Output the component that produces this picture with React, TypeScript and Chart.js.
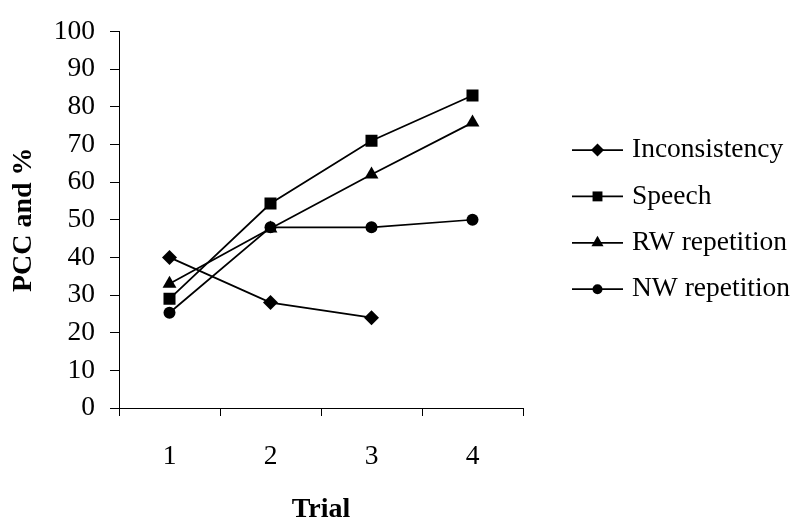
import React, { useEffect, useRef } from "react";
import { Chart, registerables } from "chart.js";

Chart.register(...registerables);

const categories = ["1", "2", "3", "4"];
const inconsistency = [40, 28, 24, null];
const speech = [29, 54.3, 71, 83];
const rwRepetition = [33, 47.7, 62, 75.8];
const nwRepetition = [25.3, 48, 48, 50];
const seriesNames = ["Inconsistency", "Speech", "RW repetition", "NW repetition"];
const xTitle = "Trial";
const yTitle = "PCC and %";

const FONT = "'Liberation Serif', 'Times New Roman', serif";
const FS = 27.5;

function marker(ctx: CanvasRenderingContext2D, style: string, x: number, y: number, r: number) {
  ctx.beginPath();
  if (style === "rectRot") {
    ctx.moveTo(x, y - r);
    ctx.lineTo(x + r, y);
    ctx.lineTo(x, y + r);
    ctx.lineTo(x - r, y);
    ctx.closePath();
  } else if (style === "rect") {
    const s = Math.SQRT1_2 * r;
    ctx.rect(x - s, y - s, 2 * s, 2 * s);
  } else if (style === "triangle") {
    ctx.moveTo(x, y - r);
    ctx.lineTo(x + r * 0.866, y + r * 0.5);
    ctx.lineTo(x - r * 0.866, y + r * 0.5);
    ctx.closePath();
  } else {
    ctx.arc(x, y, r, 0, Math.PI * 2);
  }
  ctx.fill();
}

const styles = ["rectRot", "rect", "triangle", "circle"];
const legendRadius = [6.5, 7, 7, 5];
const plotRadius = [7.5, 8.5, 8, 6];

const legendPlugin = {
  id: "lineMarkerLegend",
  afterDraw(chart: any) {
    const ctx: CanvasRenderingContext2D = chart.ctx;
    ctx.save();
    const y0 = 150;
    const dy = 46.4;
    seriesNames.forEach((name, i) => {
      const y = y0 + dy * i;
      ctx.strokeStyle = "#000";
      ctx.lineWidth = 1.75;
      ctx.beginPath();
      ctx.moveTo(572, y);
      ctx.lineTo(623, y);
      ctx.stroke();
      ctx.fillStyle = "#000";
      marker(ctx, styles[i], 597.5, y, legendRadius[i]);
      ctx.font = `${FS}px ${FONT}`;
      ctx.textAlign = "left";
      ctx.textBaseline = "middle";
      ctx.fillText(name, 632, y);
    });
    ctx.restore();
  },
};

export default function App() {
  const ref = useRef<HTMLCanvasElement | null>(null);
  useEffect(() => {
    if (!ref.current) return;
    const mk = (label: string, data: (number | null)[], i: number) => ({
      label,
      data,
      borderColor: "#000",
      backgroundColor: "#000",
      borderWidth: 1.75,
      pointStyle: styles[i],
      pointRadius: plotRadius[i],
      pointBackgroundColor: "#000",
      pointBorderColor: "#000",
      pointBorderWidth: 0,
      spanGaps: false,
      tension: 0,
    });
    const chart = new Chart(ref.current, {
      type: "line",
      data: {
        labels: categories,
        datasets: [
          mk(seriesNames[0], inconsistency, 0),
          mk(seriesNames[1], speech, 1),
          mk(seriesNames[2], rwRepetition, 2),
          mk(seriesNames[3], nwRepetition, 3),
        ],
      },
      options: {
        animation: false,
        responsive: false,
        layout: { padding: { left: 0, top: 27, right: 274, bottom: 0 } },
        plugins: { legend: { display: false }, tooltip: { enabled: false } },
        scales: {
          x: {
            type: "category",
            offset: true,
            grid: { offset: true, drawOnChartArea: false, drawTicks: true, tickLength: 8, color: "#000", lineWidth: 1 },
            border: { display: true, color: "#000", width: 1 },
            ticks: { color: "#000", font: { family: FONT, size: FS }, padding: 24, maxRotation: 0 },
            title: { display: true, text: xTitle, color: "#000", font: { family: FONT, size: 28, weight: "bold", lineHeight: 0.9 }, padding: { top: 0, bottom: -1 } },
            afterFit: (scale: any) => {
              scale.height = 113;
            },
          },
          y: {
            min: 0,
            max: 100,
            ticks: { stepSize: 10, color: "#000", font: { family: FONT, size: FS }, padding: 15 },
            grid: { drawOnChartArea: false, drawTicks: true, tickLength: 9, color: "#000", lineWidth: 1 },
            border: { display: true, color: "#000", width: 1 },
            title: { display: true, text: yTitle, color: "#000", font: { family: FONT, size: 28, weight: "bold", lineHeight: 1.2 }, padding: { top: 7, bottom: 0 } },
            afterFit: (scale: any) => {
              scale.width = 119;
            },
          },
        },
      },
      plugins: [legendPlugin],
    });
    return () => chart.destroy();
  }, []);
  return (
    <div style={{ position: "absolute", left: 0, top: 0, width: 797, height: 521, background: "#fff" }}>
      <canvas ref={ref} width={797} height={521} style={{ display: "block" }} />
    </div>
  );
}
